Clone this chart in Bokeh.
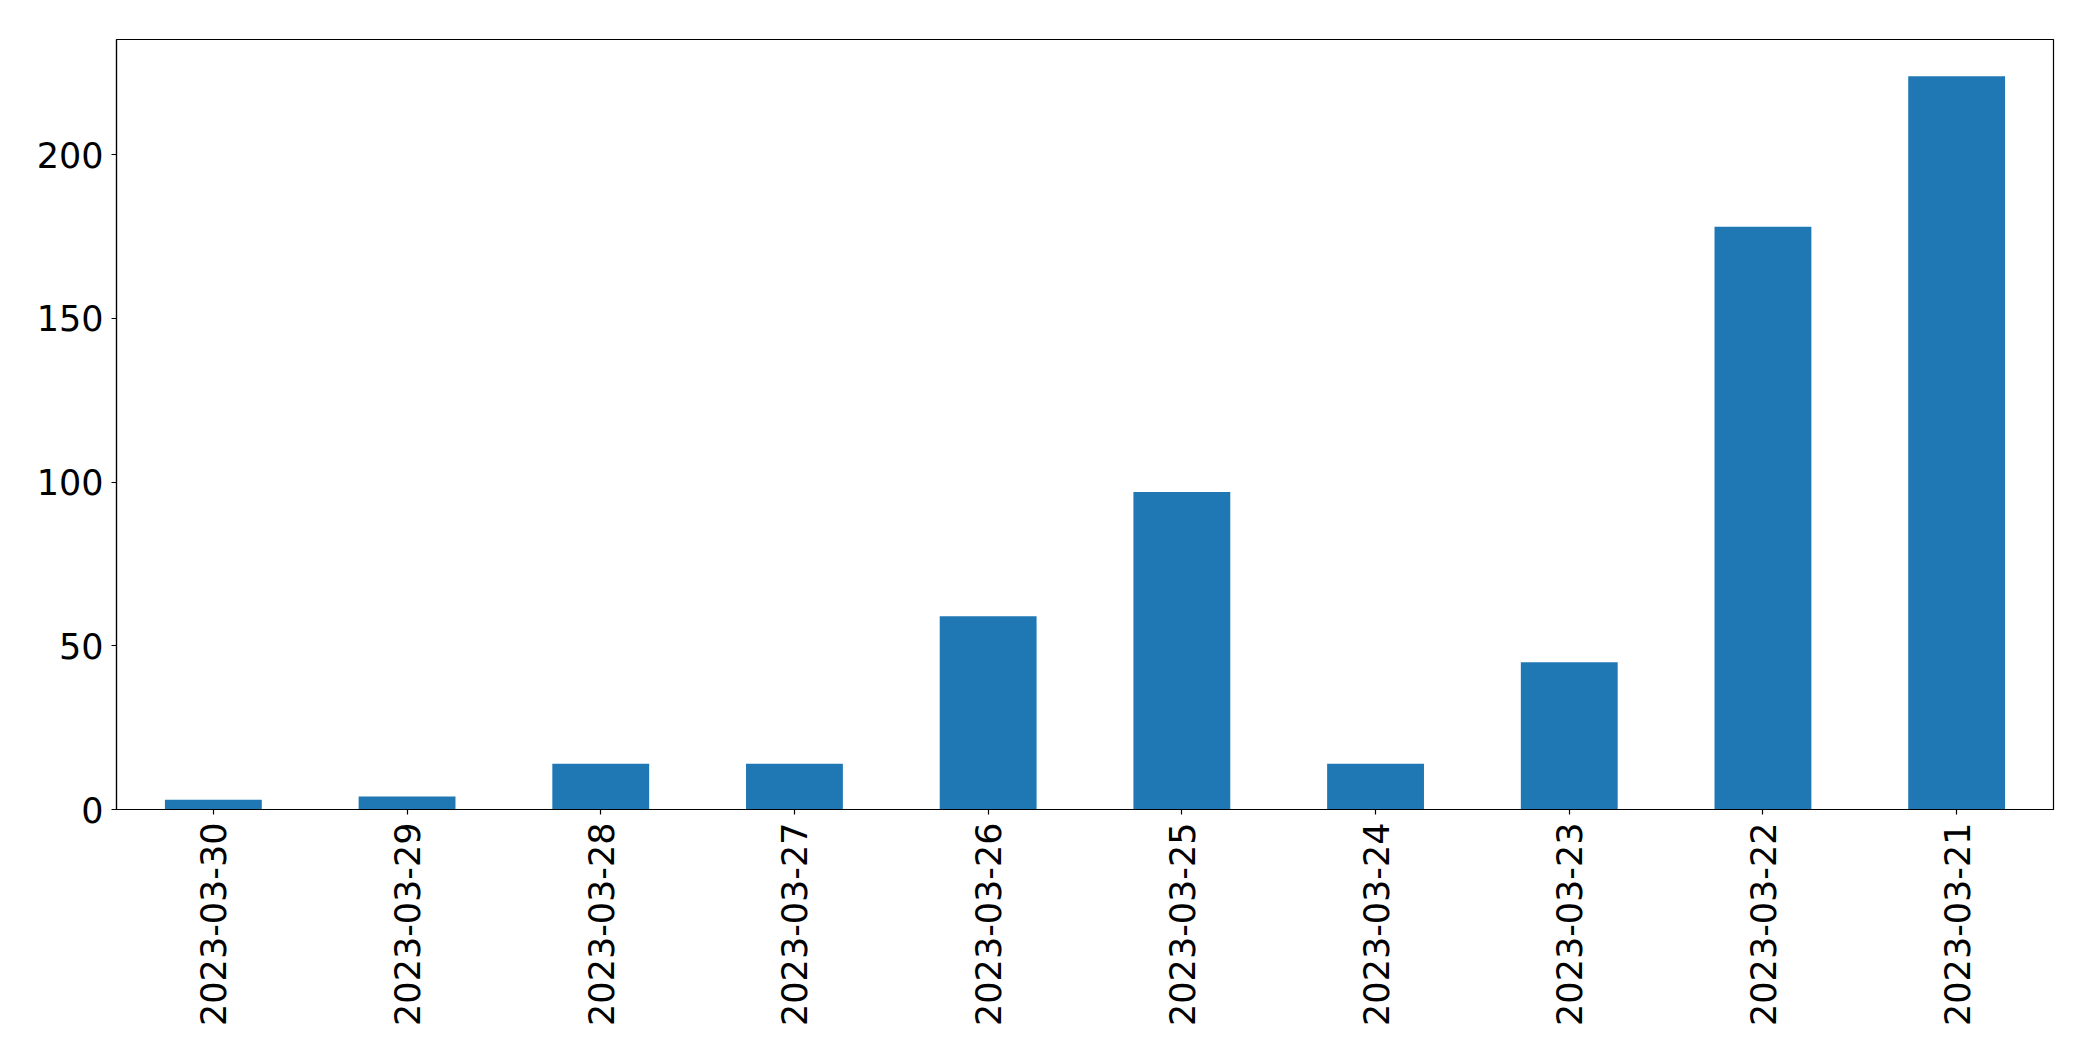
import math
from bokeh.plotting import figure
from bokeh.models import FactorRange, Range1d, FixedTicker, ColumnDataSource
from bokeh.embed import file_html
from bokeh.resources import INLINE

dates = ["2023-03-30", "2023-03-29", "2023-03-28", "2023-03-27", "2023-03-26",
         "2023-03-25", "2023-03-24", "2023-03-23", "2023-03-22", "2023-03-21"]
counts = [3, 4, 14, 14, 59, 97, 14, 45, 178, 224]
y_ticks = [0, 50, 100, 150, 200]

source = ColumnDataSource(data=dict(date=dates, count=counts))

p = figure(width=2077, height=1045, output_backend="svg", toolbar_location=None,
           x_range=FactorRange(factors=dates), y_range=Range1d(0, max(counts) * 1.05),
           min_border_left=116, min_border_top=39, min_border_right=24, min_border_bottom=236)

p.vbar(x="date", top="count", width=0.5, source=source, color="#1f77b4", line_color=None)

p.xgrid.visible = False
p.ygrid.visible = False
p.outline_line_color = "black"
p.outline_line_width = 1.2
p.background_fill_color = "white"
p.border_fill_color = "white"

for ax in (p.xaxis[0], p.yaxis[0]):
    ax.axis_line_color = "black"
    ax.axis_line_width = 1.2
    ax.major_tick_line_color = "black"
    ax.major_tick_line_width = 1.2
    ax.major_tick_out = 5
    ax.major_tick_in = 0
    ax.minor_tick_line_color = None
    ax.major_label_text_font = "DejaVu Sans"
    ax.major_label_text_font_size = "35px"
    ax.major_label_text_color = "black"

p.yaxis[0].ticker = FixedTicker(ticks=y_ticks)
p.yaxis[0].major_label_standoff = 8
p.xaxis[0].major_label_orientation = math.pi / 2
p.xaxis[0].major_label_standoff = 8

open("out.html", "w").write(file_html(p, INLINE))
